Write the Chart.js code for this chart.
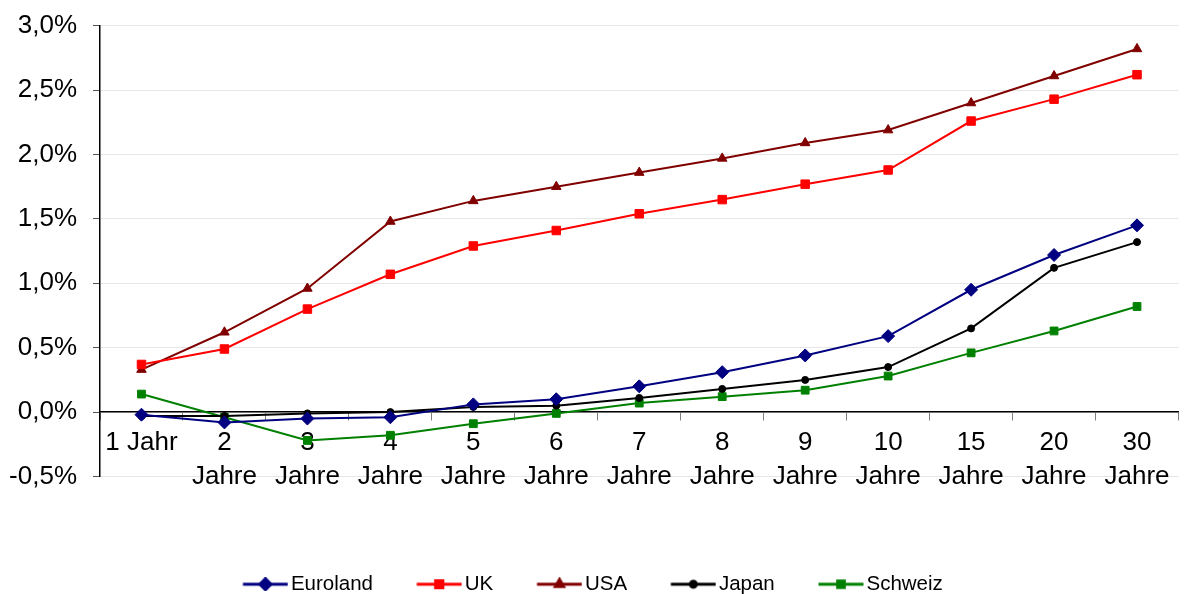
<!DOCTYPE html>
<html>
<head>
<meta charset="utf-8">
<script src="https://cdn.jsdelivr.net/npm/chart.js@4"></script>
<style>
  html, body { margin: 0; padding: 0; background: #fff; }
  #wrap { width: 1186px; height: 594px; }
</style>
</head>
<body>
<div id="wrap"><canvas id="chart"></canvas></div>
<script>
const laufzeiten = ["1 Jahr", ["2", "Jahre"], ["3", "Jahre"], ["4", "Jahre"], ["5", "Jahre"], ["6", "Jahre"], ["7", "Jahre"],
  ["8", "Jahre"], ["9", "Jahre"], ["10", "Jahre"], ["15", "Jahre"], ["20", "Jahre"], ["30", "Jahre"]];

const euroland = [-0.02, -0.08, -0.05, -0.04, 0.06, 0.10, 0.20, 0.31, 0.44, 0.59, 0.95, 1.22, 1.45];
const uk = [0.37, 0.49, 0.80, 1.07, 1.29, 1.41, 1.54, 1.65, 1.77, 1.88, 2.26, 2.43, 2.62];
const usa = [0.33, 0.62, 0.96, 1.48, 1.64, 1.75, 1.86, 1.97, 2.09, 2.19, 2.40, 2.61, 2.82];
const japan = [-0.03, -0.03, -0.01, 0.00, 0.04, 0.05, 0.11, 0.18, 0.25, 0.35, 0.65, 1.12, 1.32];
const schweiz = [0.14, -0.04, -0.22, -0.18, -0.09, -0.01, 0.07, 0.12, 0.17, 0.28, 0.46, 0.63, 0.82];

const FONT = "'Liberation Sans', Arial, sans-serif";

const series = [
  { label: "Euroland", data: euroland, color: "#000080", style: "rectRot", radius: 6.5 },
  { label: "UK", data: uk, color: "#ff0000", style: "rect", radius: 6 },
  { label: "USA", data: usa, color: "#800000", style: "triangle", radius: 5.5 },
  { label: "Japan", data: japan, color: "#000000", style: "circle", radius: 3.5 },
  { label: "Schweiz", data: schweiz, color: "#008000", style: "rect", radius: 5.5 },
];

// legend swatch: line with the marker in the middle
function legendSwatch(s) {
  const c = document.createElement("canvas");
  c.width = 53;
  c.height = 14;
  const ctx = c.getContext("2d");
  ctx.strokeStyle = s.color;
  ctx.lineWidth = 3;
  ctx.beginPath();
  ctx.moveTo(7.5, 7);
  ctx.lineTo(52.5, 7);
  ctx.stroke();
  ctx.fillStyle = s.color;
  Chart.helpers.drawPoint(ctx, { pointStyle: s.style, radius: s.radius * 0.85, borderWidth: 1 }, 30, 7);
  return c;
}

const swatches = series.map(legendSwatch);

new Chart(document.getElementById("chart"), {
  type: "line",
  data: {
    labels: laufzeiten,
    datasets: series.map((s) => ({
      label: s.label,
      data: s.data,
      borderColor: s.color,
      backgroundColor: s.color,
      borderWidth: 2,
      pointStyle: s.style,
      pointRadius: s.radius,
      pointBorderWidth: 1,
      tension: 0,
      xAxisID: "x",
    })),
  },
  options: {
    responsive: true,
    maintainAspectRatio: false,
    animation: false,
    layout: { padding: { top: 24, right: 3, left: 3, bottom: -10.5 } },
    plugins: {
      tooltip: { enabled: false },
      legend: {
        position: "bottom",
        labels: {
          usePointStyle: true,
          pointStyleWidth: 37.5,
          padding: 44,
          color: "#000",
          font: { family: FONT, size: 20.5 },
          generateLabels(chart) {
            return Chart.defaults.plugins.legend.labels.generateLabels(chart).map((item, i) => {
              item.pointStyle = swatches[i];
              return item;
            });
          },
        },
      },
    },
    scales: {
      x: {
        type: "category",
        position: { y: 0 },
        offset: true,
        border: { display: true, color: "#000", width: 1.5 },
        grid: { offset: true, drawOnChartArea: false, drawTicks: true, tickLength: 8, tickColor: "#808080" },
        ticks: {
          autoSkip: false,
          maxRotation: 0,
          padding: 6,
          color: "#000",
          font: { family: FONT, size: 26, lineHeight: 1.3 },
        },
      },
      spacer: {
        type: "category",
        position: "bottom",
        display: true,
        border: { display: false },
        grid: { display: false },
        ticks: { display: false },
        afterFit(scale) { scale.height = 53.5; },
      },
      y: {
        min: -0.5,
        max: 3.0,
        border: { display: true, color: "#000", width: 1.5 },
        grid: { color: "#e6e6e6", tickLength: 7, tickColor: "#555" },
        ticks: {
          stepSize: 0.5,
          padding: 16,
          color: "#000",
          font: { family: FONT, size: 26, lineHeight: 0.75 },
          callback: (v) => v.toFixed(1).replace(".", ",") + "%",
        },
        afterFit(scale) { scale.width = 97; },
      },
    },
  },
});
</script>
</body>
</html>
